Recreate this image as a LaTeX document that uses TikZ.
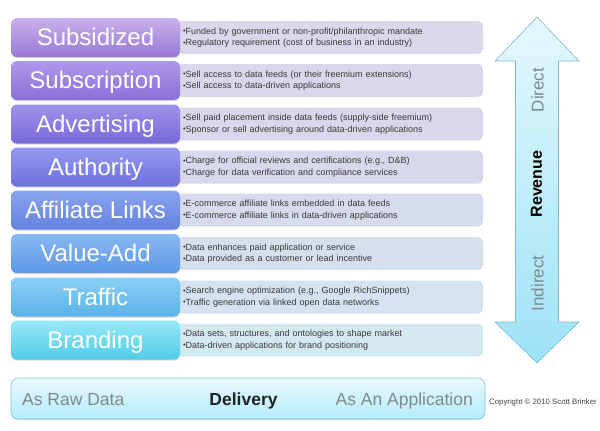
\documentclass[tikz,border=0pt]{standalone}
\usepackage{fontspec}
\setmainfont{Liberation Sans}
\usetikzlibrary{shadows}
\definecolor{notetext}{HTML}{3A3A3A}
\definecolor{softgray}{HTML}{7E8A8E}
\definecolor{arrowline}{HTML}{7FB6CC}
\definecolor{arrowtop}{HTML}{E4F8FD}
\definecolor{arrowbot}{HTML}{9EE2F6}
\definecolor{barline}{HTML}{86C3D6}
\definecolor{bartop}{HTML}{E8F9FE}
\definecolor{barbot}{HTML}{B4ECFA}
\definecolor{boldtext}{HTML}{222222}
\definecolor{copytext}{HTML}{444444}
\definecolor{noteA}{HTML}{DCD7EA}
\definecolor{noteB}{HTML}{DAD6EB}
\definecolor{noteC}{HTML}{D9D7EC}
\definecolor{noteD}{HTML}{D8D8EC}
\definecolor{noteE}{HTML}{D6DBED}
\definecolor{noteF}{HTML}{D5DFEE}
\definecolor{noteG}{HTML}{D4E3EF}
\definecolor{noteH}{HTML}{D4E8F0}
\definecolor{topA}{HTML}{C8B2EC}\definecolor{botA}{HTML}{9878D4}
\definecolor{topB}{HTML}{AE98EA}\definecolor{botB}{HTML}{8A70D8}
\definecolor{topC}{HTML}{9E92EC}\definecolor{botC}{HTML}{7868DA}
\definecolor{topD}{HTML}{949AF0}\definecolor{botD}{HTML}{6E70DE}
\definecolor{topE}{HTML}{8AA4F0}\definecolor{botE}{HTML}{6482E0}
\definecolor{topF}{HTML}{88B8F2}\definecolor{botF}{HTML}{5E98E4}
\definecolor{topG}{HTML}{8AD0F4}\definecolor{botG}{HTML}{5AB2E8}
\definecolor{topH}{HTML}{96E9F8}\definecolor{botH}{HTML}{52CCE8}
\newcommand{\dotitem}{\raisebox{0.4pt}{\fontsize{7.5}{7.5}\selectfont\textbullet}}
\begin{document}
\begin{tikzpicture}[x=1pt,y=-1pt,
kind/.style 2 args={rectangle, rounded corners=6pt, minimum width=169pt, minimum height=39pt, text height=18pt, text depth=1.6pt, text=white, font=\fontsize{24}{24}\selectfont, top color=#1, bottom color=#2, drop shadow={shadow xshift=0pt, shadow yshift=-1.2pt, opacity=0.3}},
note/.style={rectangle, rounded corners=5pt, minimum width=306pt, minimum height=33pt, text width=294pt, inner xsep=6pt, align=left, font=\fontsize{9}{11.5}\selectfont, text=notetext, fill=#1},
side/.style={rotate=90, text=softgray, font=\fontsize{17}{17}\selectfont}]
\useasboundingbox (0,0) rectangle (600,431);
\node[note=noteA] (note1) at (330,37.5){\dotitem Funded by government or non-profit/philanthropic mandate\\\dotitem Regulatory requirement (cost of business in an industry)};
\node[note=noteB] (note2) at (330,80.5){\dotitem Sell access to data feeds (or their freemium extensions)\\\dotitem Sell access to data-driven applications};
\node[note=noteC] (note3) at (330,124){\dotitem Sell paid placement inside data feeds (supply-side freemium)\\\dotitem Sponsor or sell advertising around data-driven applications};
\node[note=noteD] (note4) at (330,167){\dotitem Charge for official reviews and certifications (e.g., D\&B)\\\dotitem Charge for data verification and compliance services};
\node[note=noteE] (note5) at (330,210){\dotitem E-commerce affiliate links embedded in data feeds\\\dotitem E-commerce affiliate links in data-driven applications};
\node[note=noteF] (note6) at (330,253.5){\dotitem Data enhances paid application or service\\\dotitem Data provided as a customer or lead incentive};
\node[note=noteG] (note7) at (330,297){\dotitem Search engine optimization (e.g., Google RichSnippets)\\\dotitem Traffic generation via linked open data networks};
\node[note=noteH] (note8) at (330,340){\dotitem Data sets, structures, and ontologies to shape market\\\dotitem Data-driven applications for brand positioning};

\node[kind={topA}{botA}] (rev1) at (95.5,37.5){Subsidized};
\node[kind={topB}{botB}] (rev2) at (95.5,80.5){Subscription};
\node[kind={topC}{botC}] (rev3) at (95.5,124){Advertising};
\node[kind={topD}{botD}] (rev4) at (95.5,167){Authority};
\node[kind={topE}{botE}] (rev5) at (95.5,210){Affiliate Links};
\node[kind={topF}{botF}] (rev6) at (95.5,253.5){Value-Add};
\node[kind={topG}{botG}] (rev7) at (95.5,297){Traffic};
\node[kind={topH}{botH}] (rev8) at (95.5,340){Branding};

\draw[arrowline, line width=0.6pt, top color=arrowtop, bottom color=arrowbot] (537,17) -- (579,61) -- (558.5,61) -- (558.5,322) -- (579,322) -- (537,363) -- (495,322) -- (515.5,322) -- (515.5,61) -- (495,61) -- cycle;
\node[side] (direct) at (537.5,90){Direct};
\node[rotate=90, font=\fontsize{16}{16}\selectfont\bfseries] (revenue) at (536.5,184){Revenue};
\node[side] (indirect) at (537.5,283.5){Indirect};

\node[rectangle, rounded corners=7pt, minimum width=474pt, minimum height=41pt, draw=barline, line width=0.6pt, top color=bartop, bottom color=barbot, drop shadow={shadow xshift=0pt, shadow yshift=-1.2pt, opacity=0.3}] (delivery) at (248,398.5){};
\node[anchor=base west, inner sep=0pt, text=softgray, font=\fontsize{17.5}{17.5}\selectfont] (rawdata) at (22,405){As Raw Data};
\node[anchor=base, inner sep=0pt, text=boldtext, font=\fontsize{17.5}{17.5}\selectfont\bfseries] (deliv) at (243.5,405){Delivery};
\node[anchor=base east, inner sep=0pt, text=softgray, font=\fontsize{17.5}{17.5}\selectfont] (asapp) at (473,405){As An Application};
\node[anchor=west, inner sep=0pt, text=copytext, font=\fontsize{7.8}{7.8}\selectfont] (copy) at (489,402){Copyright © 2010 Scott Brinker};

\end{tikzpicture}
\end{document}
